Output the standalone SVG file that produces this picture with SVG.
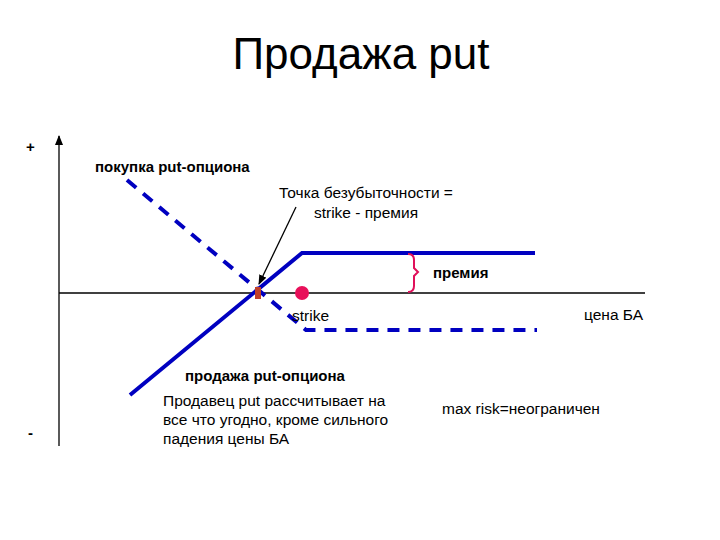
<svg xmlns="http://www.w3.org/2000/svg" width="720" height="540" viewBox="0 0 720 540">
<style>
text{font-family:"Liberation Sans",Arial,sans-serif;fill:#000}
.b{font-weight:bold;font-size:15px}
.n{font-size:15.5px}
.pay{fill:none;stroke:#0000c0;stroke-width:4}
</style>
<defs><marker id="ah" markerWidth="10" markerHeight="8" refX="9" refY="4" orient="auto" markerUnits="userSpaceOnUse"><path d="M0,0L10,4L0,8z" fill="#000"/></marker></defs>
<rect width="720" height="540" fill="#fff"/>
<text x="361" y="69" text-anchor="middle" font-size="44">Продажа put</text>
<g id="axes" stroke="#000" stroke-width="1.3">
<line x1="59" y1="446" x2="59" y2="136" marker-end="url(#ah)"/>
<line x1="59" y1="293" x2="645" y2="293"/>
</g>
<text x="26" y="152" class="b" font-size="17">+</text>
<text x="28" y="438" class="b" font-size="17">-</text>
<g id="connectors">
<polyline class="pay" points="130,395 302,253 535,253"/>
<polyline class="pay" stroke-dasharray="12,9" points="127,180 306,330 537,330"/>
<line x1="296" y1="207" x2="259" y2="284" stroke="#000" stroke-width="1.3" marker-end="url(#ah)"/>
<path d="M408,254 Q414,254 414,260 L414,268 L418,272 L414,276 L414,286 Q414,292 408,292" fill="none" stroke="#e0105a" stroke-width="2"/>
</g>
<g id="breakeven"><rect x="255" y="287" width="6" height="12" fill="#c0402a"/></g>
<g id="strike"><circle cx="302" cy="293" r="7" fill="#e8105a"/><text x="292" y="321" class="n">strike</text></g>
<text x="95" y="172" class="b">покупка put-опциона</text>
<text x="366" y="198" class="n" text-anchor="middle">Точка безубыточности =</text>
<text x="366" y="218" class="n" text-anchor="middle">strike - премия</text>
<text x="433" y="278" class="b">премия</text>
<text x="584" y="320" class="n">цена БА</text>
<text x="185" y="381" class="b">продажа put-опциона</text>
<text x="163" y="406" class="n">Продавец put рассчитывает на</text>
<text x="163" y="425" class="n">все что угодно, кроме сильного</text>
<text x="163" y="444" class="n">падения цены БА</text>
<text x="442" y="414" class="n">max risk=неограничен</text>
</svg>
